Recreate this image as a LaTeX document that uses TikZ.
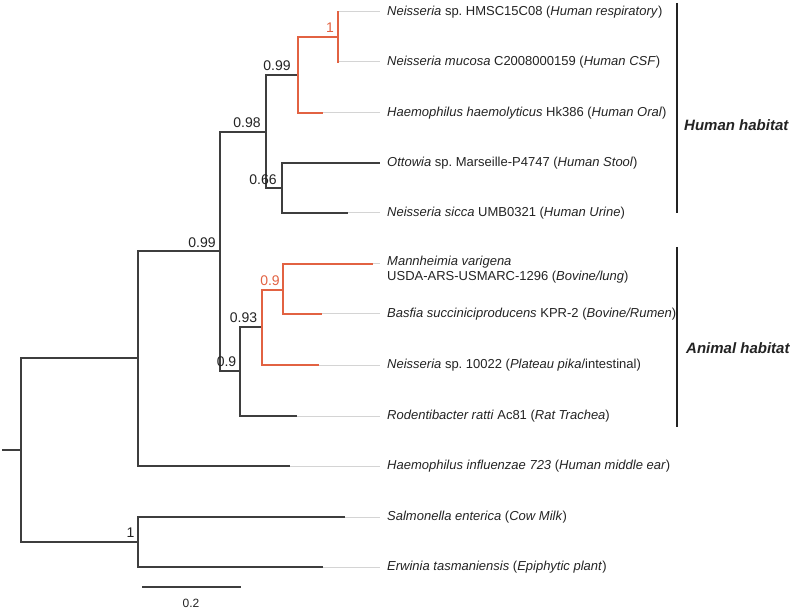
\documentclass[tikz,border=0pt]{standalone}
\usepackage{fontspec}
\setmainfont{Liberation Sans}
\frenchspacing
\definecolor{treered}{RGB}{226,98,66}
\definecolor{treeblk}{RGB}{62,62,62}
\definecolor{extgray}{RGB}{212,212,212}
\definecolor{txt}{RGB}{35,35,35}
\begin{document}
\begin{tikzpicture}[x=1pt,y=-1pt,
  br/.style={draw=treeblk,line width=1.1pt},
  rbr/.style={draw=treered,line width=1.1pt},
  ext/.style={draw=extgray,line width=1pt},
  leaf/.style={anchor=west,inner sep=0pt,text=txt,font=\fontsize{13}{15}\selectfont},
  boot/.style={inner sep=0pt,text=txt,font=\fontsize{14}{16}\selectfont},
  rboot/.style={boot,text=treered},
  hab/.style={anchor=west,inner sep=0pt,text=txt,font=\fontsize{15}{17}\selectfont\bfseries\itshape},
  bar/.style={draw=txt,line width=2.8pt}]
\useasboundingbox (0,0) rectangle (800,609);
% internal nodes
\coordinate (S) at (2,450);
\coordinate (R) at (21,450);
\coordinate (A) at (138,358);
\coordinate (B) at (220,251);
\coordinate (C) at (266,132);
\coordinate (D) at (298,75);
\coordinate (E) at (338,37);
\coordinate (F) at (282,188);
\coordinate (G) at (240,371);
\coordinate (H) at (262,327);
\coordinate (I) at (283,290);
\coordinate (J) at (138,542);
% leaf ends
\coordinate (e1) at (339,12);   \coordinate (g1) at (380,12);
\coordinate (e2) at (339,62);   \coordinate (g2) at (380,62);
\coordinate (e3) at (323,113);  \coordinate (g3) at (380,113);
\coordinate (e4) at (380,163);  \coordinate (g4) at (380,163);
\coordinate (e5) at (348,213);  \coordinate (g5) at (380,213);
\coordinate (e6) at (373,264);  \coordinate (g6) at (380,264);
\coordinate (e7) at (322,314);  \coordinate (g7) at (380,314);
\coordinate (e8) at (319,365);  \coordinate (g8) at (380,365);
\coordinate (e9) at (297,416);  \coordinate (g9) at (380,416);
\coordinate (e10) at (290,466); \coordinate (g10) at (380,466);
\coordinate (e11) at (345,517); \coordinate (g11) at (380,517);
\coordinate (e12) at (323,567); \coordinate (g12) at (380,567);
% black branches
\draw[br] (S) -- (R);
\draw[br] (R) |- (A);
\draw[br] (R) |- (J);
\draw[br] (A) |- (B);
\draw[br] (A) |- (e10);
\draw[br] (B) |- (C);
\draw[br] (B) |- (G);
\draw[br] (C) |- (D);
\draw[br] (C) |- (F);
\draw[br] (F) |- (e4);
\draw[br] (F) |- (e5);
\draw[br] (G) |- (H);
\draw[br] (G) |- (e9);
\draw[br] (J) |- (e11);
\draw[br] (J) |- (e12);
% red branches
\draw[rbr] (D) |- (E);
\draw[rbr] (D) |- (e3);
\draw[rbr] (E) |- (e1);
\draw[rbr] (E) |- (e2);
\draw[rbr] (H) |- (I);
\draw[rbr] (H) |- (e8);
\draw[rbr] (I) |- (e6);
\draw[rbr] (I) |- (e7);
% gray extensions
\foreach \i in {1,2,3,5,6,7,8,9,10,11,12} {\draw[ext] (e\i) -- (g\i);}
% leaf labels
\node[leaf] (l1) at (387,12) {\textit{Neisseria} sp. HMSC15C08 (\textit{Human respiratory})};
\node[leaf] (l2) at (387,62) {\textit{Neisseria mucosa} C2008000159 (\textit{Human CSF})};
\node[leaf] (l3) at (387,113) {\textit{Haemophilus haemolyticus} Hk386 (\textit{Human Oral})};
\node[leaf] (l4) at (387,163) {\textit{Ottowia} sp. Marseille-P4747 (\textit{Human Stool})};
\node[leaf] (l5) at (387,213) {\textit{Neisseria sicca} UMB0321 (\textit{Human Urine})};
\node[leaf,align=left] (l6) at (387,269.5) {\textit{Mannheimia varigena}\\USDA-ARS-USMARC-1296 (\textit{Bovine/lung})};
\node[leaf] (l7) at (387,314) {\textit{Basfia succiniciproducens} KPR-2 (\textit{Bovine/Rumen})};
\node[leaf] (l8) at (387,365) {\textit{Neisseria} sp. 10022 (\textit{Plateau pika}/intestinal)};
\node[leaf] (l9) at (387,416) {\textit{Rodentibacter ratti} Ac81 (\textit{Rat Trachea})};
\node[leaf] (l10) at (387,466) {\textit{Haemophilus influenzae 723} (\textit{Human middle ear})};
\node[leaf] (l11) at (387,517) {\textit{Salmonella enterica} (\textit{Cow Milk})};
\node[leaf] (l12) at (387,567) {\textit{Erwinia tasmaniensis} (\textit{Epiphytic plant})};
% support values
\node[rboot] (bE) at (330,28) {1};
\node[boot] (bD) at (277,66) {0.99};
\node[boot] (bC) at (247,123) {0.98};
\node[boot] (bF) at (263,180) {0.66};
\node[boot] (bB) at (202,243) {0.99};
\node[rboot] (bI) at (270,281) {0.9};
\node[boot] (bH) at (243.5,318) {0.93};
\node[boot] (bG) at (226.5,362) {0.9};
\node[boot] (bJ) at (130.5,533) {1};
% habitat bars
\coordinate (hb1) at (677,3);
\coordinate (hb2) at (677,213);
\coordinate (ab1) at (677,247);
\coordinate (ab2) at (677,427);
\draw[bar] (hb1) -- (hb2);
\draw[bar] (ab1) -- (ab2);
\node[hab] (hh) at (684,125) {Human habitat};
\node[hab] (ah) at (686,348) {Animal habitat};
% scale bar
\coordinate (sb1) at (142,587);
\coordinate (sb2) at (241,587);
\draw[br] (sb1) -- (sb2);
\node[boot,font=\fontsize{12}{14}\selectfont] (sbl) at (191,603) {0.2};
\end{tikzpicture}
\end{document}
